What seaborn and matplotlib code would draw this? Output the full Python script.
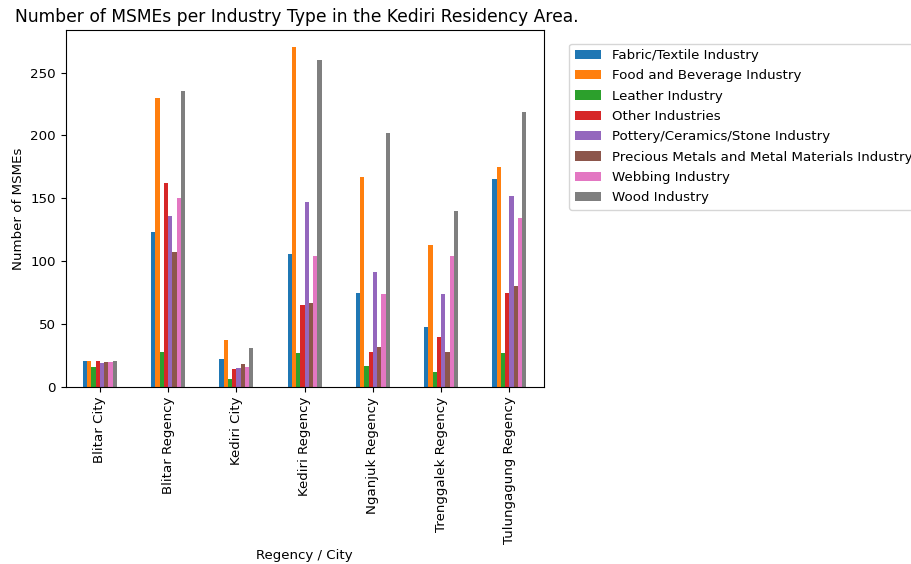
import seaborn as sns
import matplotlib.pyplot as plt
import pandas as pd

# Regions and industry types
regions = ["Blitar City", "Blitar Regency", "Kediri City", "Kediri Regency",
           "Nganjuk Regency", "Trenggalek Regency", "Tulungagung Regency"]
industries = ["Fabric/Textile Industry", "Food and Beverage Industry",
              "Leather Industry", "Other Industries",
              "Pottery/Ceramics/Stone Industry",
              "Precious Metals and Metal Materials Industry",
              "Webbing Industry", "Wood Industry"]

# Counts per region, one list per industry (in region order)
fabric = [21, 123, 22, 106, 75, 48, 165]
food = [21, 230, 37, 270, 167, 113, 175]
leather = [16, 28, 6, 27, 17, 12, 27]
other = [21, 162, 14, 65, 28, 40, 75]
pottery = [19, 136, 15, 147, 91, 74, 152]
metals = [20, 107, 18, 67, 32, 28, 80]
webbing = [20, 150, 16, 104, 74, 104, 134]
wood = [21, 235, 31, 260, 202, 140, 219]

values = [fabric, food, leather, other, pottery, metals, webbing, wood]

# Long format for seaborn
rows = []
for ind, vals in zip(industries, values):
    for reg, v in zip(regions, vals):
        rows.append({"region": reg, "industry": ind, "count": v})
df = pd.DataFrame(rows)

plt.rcParams["font.size"] = 9.6

fig, ax = plt.subplots(figsize=(9.12, 5.64), dpi=100)
fig.subplots_adjust(left=0.072, right=0.596, bottom=0.314, top=0.946)

sns.barplot(
    data=df,
    x="region",
    y="count",
    hue="industry",
    order=regions,
    hue_order=industries,
    palette="tab10",
    width=0.5,
    saturation=1,
    linewidth=0,
    ax=ax,
)

ax.set_title("Number of MSMEs per Industry Type in the Kediri Residency Area.",
             fontsize=12.3, x=0.483)
ax.set_xlabel("Regency / City", labelpad=3)
ax.set_ylabel("Number of MSMEs")
ax.tick_params(axis="x", rotation=90)
ax.set_xlim(-0.5, len(regions) - 0.5)
ax.legend(loc="upper left", bbox_to_anchor=(1.04, 0.982), labelspacing=0.55)

plt.savefig("out.png", dpi=100)
